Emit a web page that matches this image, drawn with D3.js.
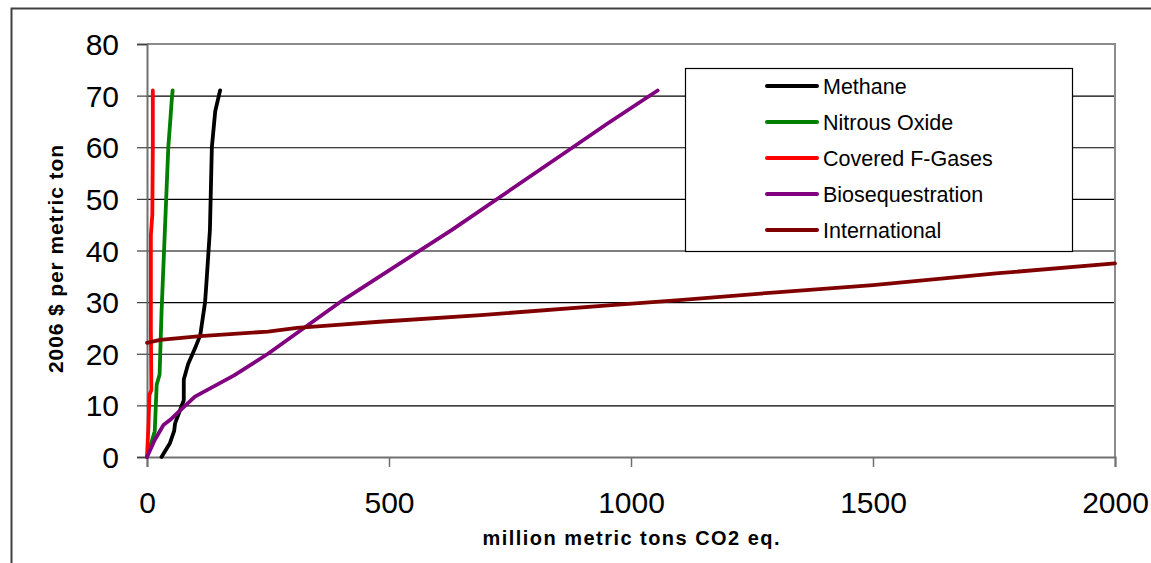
<!DOCTYPE html>
<html>
<head>
<meta charset="utf-8">
<script src="https://cdn.jsdelivr.net/npm/d3@7"></script>
<style>
  html, body { margin: 0; padding: 0; background: #fff; }
  svg { display: block; font-family: "Liberation Sans", Arial, sans-serif; }
</style>
</head>
<body>
<svg id="chart" width="1151" height="563"></svg>
<script>
// ---- Data ----
const seriesNames = ["Methane", "Nitrous Oxide", "Covered F-Gases", "Biosequestration", "International"];
const seriesColors = ["#000000", "#008000", "#ff0000", "#800080", "#800000"];

// [million metric tons CO2 eq., 2006 $ per metric ton]
const methane = [[30,0],[47,2.6],[56,5],[58,6.5],[68,9],[76,11],[76,15],[85,18],[99,21],[110,23.6],[120,30],[123,34],[130,44],[134,60],[141,67],[151,71]];
const nitrousOxide = [[0,0],[16,5],[20,14],[26,16],[30,28],[37,44],[44,60],[48,65],[51,69],[53,71]];
const fGases = [[0,0],[3,6],[5,12],[9,13],[8,25],[8,43],[11,47],[12,60],[12,71]];
const biosequestration = [[0,0],[16,3.3],[34,6.2],[48,7.2],[68,9],[99,11.7],[180,15.8],[250,20],[405,30.4],[630,44],[880,60],[950,64.5],[1055,71]];
const international = [[0,22.1],[27,22.7],[110,23.4],[250,24.3],[310,25],[380,25.5],[480,26.2],[690,27.5],[960,29.4],[1100,30.4],[1300,31.9],[1500,33.3],[1760,35.6],[2000,37.5]];

const xTicks = [0, 500, 1000, 1500, 2000];
const yTicks = [0, 10, 20, 30, 40, 50, 60, 70, 80];
const xTitle = "million metric tons CO2 eq.";
const yTitle = "2006 $ per metric ton";

const allSeries = [methane, nitrousOxide, fGases, biosequestration, international];

// ---- Layout ----
const svg = d3.select("#chart");
const x = d3.scaleLinear().domain([0, 2000]).range([147, 1115]);
const y = d3.scaleLinear().domain([0, 80]).range([457, 44]);

// outer chart frame (extends beyond right/bottom edges)
svg.append("rect")
  .attr("x", 11.5).attr("y", 8.5).attr("width", 1300).attr("height", 700)
  .attr("fill", "#fff").attr("stroke", "#404040").attr("stroke-width", 2);

// gridlines
svg.append("g").selectAll("line")
  .data(yTicks.filter(d => d > 0 && d < 80))
  .join("line")
  .attr("x1", x(0)).attr("x2", x(2000))
  .attr("y1", d => y(d) + 0.5).attr("y2", d => y(d) + 0.5)
  .attr("stroke", "#000").attr("stroke-width", 1.2);

// plot area border (top and right)
svg.append("path")
  .attr("d", `M${x(0)},${y(80)}H${x(2000)}V${y(0)}`)
  .attr("fill", "none").attr("stroke", "#8c8c8c").attr("stroke-width", 2);

// y axis
const yAxis = svg.append("g")
  .attr("transform", `translate(${x(0)},0)`)
  .call(d3.axisLeft(y).tickValues(yTicks).tickSize(10).tickPadding(18).tickFormat(d3.format("d")));
yAxis.select(".domain").attr("stroke", "#707070").attr("stroke-width", 2);
yAxis.selectAll(".tick line").attr("stroke", "#404040").attr("stroke-width", 1.2);
yAxis.selectAll(".tick text")
  .attr("font-size", 30).attr("fill", "#000")
  .attr("font-family", "'Liberation Sans', Arial, sans-serif")
  .attr("dy", "0.35em");

// x axis
const xAxis = svg.append("g")
  .attr("transform", `translate(0,${y(0)})`)
  .call(d3.axisBottom(x).tickValues(xTicks).tickSize(10).tickFormat(d3.format("d")));
xAxis.select(".domain").attr("stroke", "#707070").attr("stroke-width", 2);
xAxis.selectAll(".tick line").attr("stroke", "#707070").attr("stroke-width", 1.5);
xAxis.selectAll(".tick text")
  .attr("font-size", 30).attr("fill", "#000")
  .attr("font-family", "'Liberation Sans', Arial, sans-serif")
  .attr("y", 56).attr("dy", 0);

// series lines
const line = d3.line().x(d => x(d[0])).y(d => y(d[1]));
svg.append("g").selectAll("path")
  .data(allSeries)
  .join("path")
  .attr("d", line)
  .attr("fill", "none")
  .attr("stroke", (d, i) => seriesColors[i])
  .attr("stroke-width", 3.8)
  .attr("stroke-linejoin", "round")
  .attr("stroke-linecap", "round");

// axis titles
svg.append("text")
  .attr("x", (x(0) + x(2000)) / 2).attr("y", 545)
  .attr("text-anchor", "middle")
  .attr("font-size", 20).attr("font-weight", "bold")
  .attr("textLength", 297).attr("lengthAdjust", "spacing")
  .text(xTitle);

svg.append("text")
  .attr("transform", "translate(63,259) rotate(-90)")
  .attr("text-anchor", "middle")
  .attr("font-size", 21).attr("font-weight", "bold")
  .attr("textLength", 228).attr("lengthAdjust", "spacing")
  .text(yTitle);

// legend
const legend = svg.append("g");
legend.append("rect")
  .attr("x", 685.5).attr("y", 68.5).attr("width", 387).attr("height", 183)
  .attr("fill", "#fff").attr("stroke", "#000").attr("stroke-width", 1.2);
const rows = legend.selectAll("g.item")
  .data(seriesNames)
  .join("g")
  .attr("class", "item")
  .attr("transform", (d, i) => `translate(0,${86 + i * 36})`);
rows.append("line")
  .attr("x1", 767).attr("x2", 817).attr("y1", 0).attr("y2", 0)
  .attr("stroke", (d, i) => seriesColors[i]).attr("stroke-width", 4)
  .attr("stroke-linecap", "round");
rows.append("text")
  .attr("x", 823).attr("y", 0).attr("dy", "0.35em")
  .attr("font-size", 21.5).attr("fill", "#000")
  .text(d => d);
</script>
</body>
</html>
